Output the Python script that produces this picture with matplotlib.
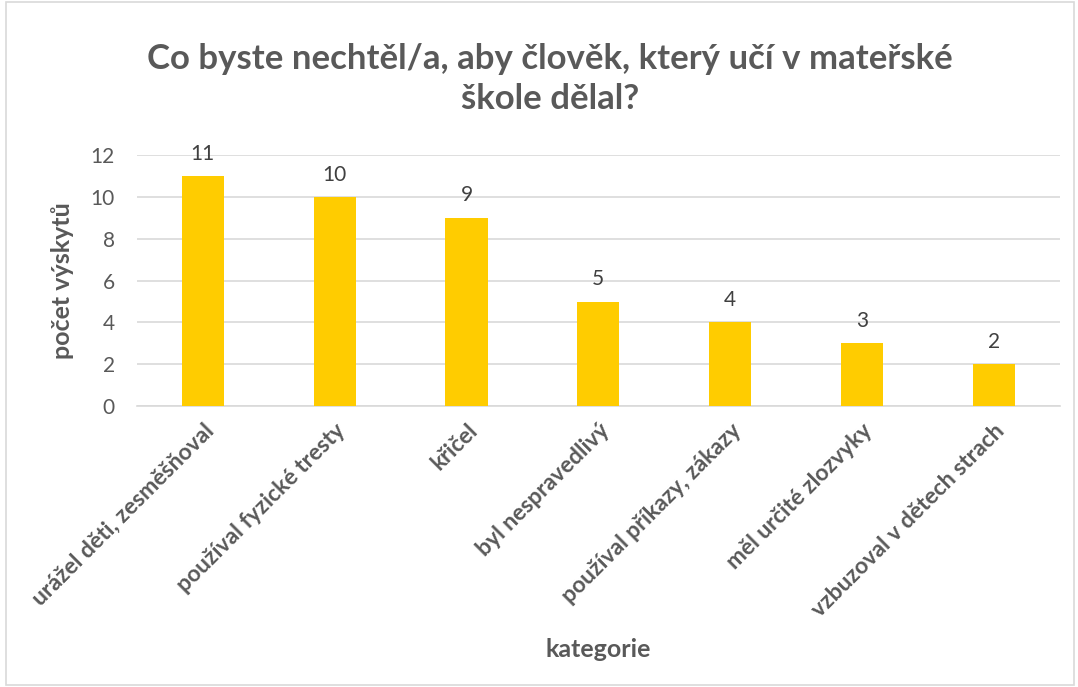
import matplotlib.pyplot as plt
import numpy as np

plt.rcParams['font.family'] = ['Lato', 'DejaVu Sans']

#========================================== Data =========================================
categories = ["urážel děti, zesměšňoval", "používal fyzické tresty", "křičel",
              "byl nespravedlivý", "používal příkazy, zákazy", "měl určité zlozvyky",
              "vzbuzoval v dětech strach"]
counts = [11, 10, 9, 5, 4, 3, 2]
yticks = [0, 2, 4, 6, 8, 10, 12]

title = "Co byste nechtěl/a, aby člověk, který učí v mateřské\nškole dělal?"
xlabel = "kategorie"
ylabel = "počet výskytů"

#========================================== Plot =========================================
GREY = '#595959'
fig = plt.figure(figsize=(10.78, 6.87), dpi=100)
ax = fig.add_axes([0.127, 0.409, 0.856, 0.365])

x = np.arange(len(categories))
ax.bar(x, counts, width=0.32, color='#FFCC00', zorder=3)
for xi, v in zip(x, counts):
    ax.text(xi, v + 0.6, str(v), ha='center', va='bottom', fontsize=15, color='#404040')

ax.set_ylim(0, 12)
ax.set_xlim(-0.5, len(categories) - 0.5)
ax.set_yticks(yticks)
ax.set_xticks(x)
ax.set_xticklabels(categories, rotation=45, ha='right', rotation_mode='anchor',
                   fontsize=16.5, fontweight='bold', color=GREY)
ax.tick_params(axis='y', labelsize=15, labelcolor=GREY, length=0, pad=16)
ax.tick_params(axis='x', length=0, pad=10)
ax.grid(axis='y', color='#d9d9d9', linewidth=1.2, zorder=0)
for s in ['top', 'right', 'left']:
    ax.spines[s].set_visible(False)
ax.spines['bottom'].set_color('#d9d9d9')
ax.spines['bottom'].set_linewidth(1.2)

ax.set_ylabel(ylabel, fontsize=18, fontweight='bold', color=GREY, labelpad=12)
fig.text(0.555, 0.055, xlabel, ha='center', va='center', fontsize=18,
         fontweight='bold', color=GREY)
fig.text(0.51, 0.885, title, ha='center', va='center', fontsize=25,
         fontweight='bold', color=GREY, linespacing=1.3)

# chart border
fig.patches.append(plt.Rectangle((0.006, 0.003), 0.99, 0.994, transform=fig.transFigure,
                                 fill=False, edgecolor='#d9d9d9', linewidth=1.2))

fig.savefig('out.png', dpi=100)
